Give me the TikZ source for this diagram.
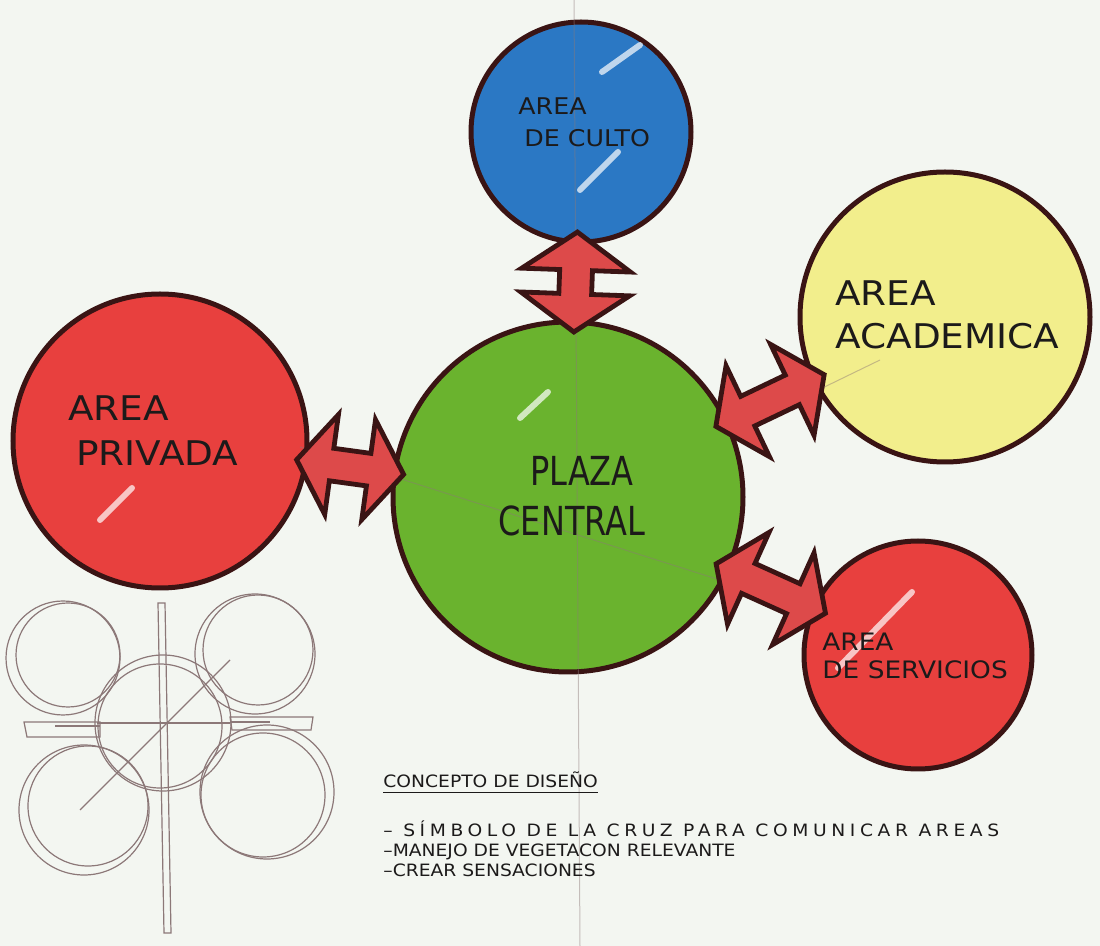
\documentclass[tikz,border=0pt]{standalone}
\usepackage{fontspec}
\newfontfamily\handfont[FakeStretch=1.1]{DejaVu Sans}
\newfontfamily\plazafont[FakeStretch=0.8]{DejaVu Sans}
\usetikzlibrary{shapes.arrows}
\definecolor{paper}{HTML}{F3F6F1}
\definecolor{ink}{HTML}{3A1414}
\definecolor{cultoblue}{HTML}{2B78C4}
\definecolor{acadyellow}{HTML}{F2EE8C}
\definecolor{areared}{HTML}{E8403E}
\definecolor{plazagreen}{HTML}{6AB32E}
\definecolor{arrowred}{HTML}{DD4A4A}
\definecolor{pencil}{HTML}{8C7878}
\definecolor{lettering}{HTML}{1C1A1A}
\tikzset{
  area/.style={draw=ink,line width=2.5pt,shape=circle,inner sep=0pt},
  link/.style={double arrow,draw=ink,fill=arrowred,line width=2.4pt,inner xsep=0pt,inner ysep=7pt,
    minimum height=55pt,double arrow head extend=17pt,double arrow tip angle=110},
  tag/.style={text=lettering,align=left,anchor=north west,inner sep=0pt},
  streak/.style={draw=white,line width=3pt,opacity=0.7,line cap=round},
  sketch/.style={draw=pencil,line width=0.6pt},
  faint/.style={draw=pencil,line width=0.5pt,opacity=0.45}
}
\begin{document}
\begin{tikzpicture}[x=0.5pt,y=-0.5pt]
\fill[paper] (0,0) rectangle (1100,946);
\useasboundingbox (0,0) rectangle (1100,946);
\draw[sketch] (163,723) circle[radius=68];
\draw[sketch] (160,726) circle[radius=62];
\draw[sketch] (63,658) circle[radius=57];
\draw[sketch] (68,655) circle[radius=52];
\draw[sketch] (255,654) circle[radius=60];
\draw[sketch] (258,650) circle[radius=55];
\draw[sketch] (84,810) circle[radius=65];
\draw[sketch] (88,806) circle[radius=60];
\draw[sketch] (267,792) circle[radius=67];
\draw[sketch] (263,795) circle[radius=62];
\draw[sketch] (97,723)--(230,723);
\draw[sketch] (80,810)--(230,660);
\draw[sketch] (24,722)--(100,722)--(100,737)--(27,737)--cycle;
\draw[sketch] (55,726)--(100,726);
\draw[sketch] (230,717)--(313,717)--(311,730)--(232,730)--cycle;
\draw[sketch] (230,722)--(270,722);
\draw[sketch] (158,603)--(165,603)--(171,933)--(164,933)--cycle;
\node [area,fill=cultoblue,name=culto,minimum size=110pt] at (581,132){};
\node [area,fill=acadyellow,name=academica,minimum size=145pt] at (945,317){};
\node [area,fill=areared,name=privada,minimum size=147pt] at (160,441){};
\node [area,fill=plazagreen,name=plaza,minimum size=175pt] at (568,497){};
\node [area,fill=areared,name=servicios,minimum size=114pt] at (918,655){};
\draw[streak] (602,72)--(640,45);
\draw[streak] (580,190)--(618,152);
\draw[streak] (520,418)--(548,392);
\draw[streak] (100,520)--(132,488);
\draw[streak] (838,668)--(912,592);
\draw[faint] (574,0)--(580,946);
\draw[faint] (300,447)--(720,580);
\draw[faint] (740,428)--(880,360);
\path (culto)--(plaza) node[link,sloped,midway,name=a1,minimum height=50pt,double arrow head extend=19pt]{};
\path (privada)--(plaza) node[link,sloped,midway,name=a2,minimum height=54pt]{};
\path (plaza)--(academica) node[link,sloped,midway,name=a3,minimum height=60pt]{};
\path (plaza)--(servicios) node[link,sloped,midway,name=a4,minimum height=60pt]{};
\node [tag,font=\handfont\fontsize{11.5}{16}\selectfont,name=t1] at (518,97){AREA\\\hspace*{3pt}DE CULTO};
\node [tag,font=\handfont\fontsize{17}{21.5}\selectfont,name=t2] at (835,280){AREA\\ACADEMICA};
\node [tag,font=\handfont\fontsize{17}{22.5}\selectfont,name=t3] at (68,395){AREA\\\hspace*{4pt}PRIVADA};
\node [tag,font=\plazafont\fontsize{20}{25}\selectfont,align=center,anchor=center,name=t4] at (572,496){\hspace*{10pt}PLAZA\\CENTRAL};
\node [tag,font=\handfont\fontsize{12}{14}\selectfont,name=t5] at (822,633){AREA\\DE SERVICIOS};
\node [tag,font=\handfont\fontsize{8.5}{10}\selectfont,name=t6] at (383,771){CONCEPTO DE DISEÑO};
\draw [lettering,line width=0.6pt] ([yshift=-2.5pt]t6.south west)--([yshift=-2.5pt]t6.south east);
\node [tag,font=\handfont\fontsize{8.5}{10}\selectfont,name=t7] at (383,820){{\addfontfeatures{LetterSpace=27}– SÍMBOLO DE LA CRUZ PARA COMUNICAR AREAS}\\–MANEJO DE VEGETACON RELEVANTE\\–CREAR SENSACIONES};
\end{tikzpicture}
\end{document}
